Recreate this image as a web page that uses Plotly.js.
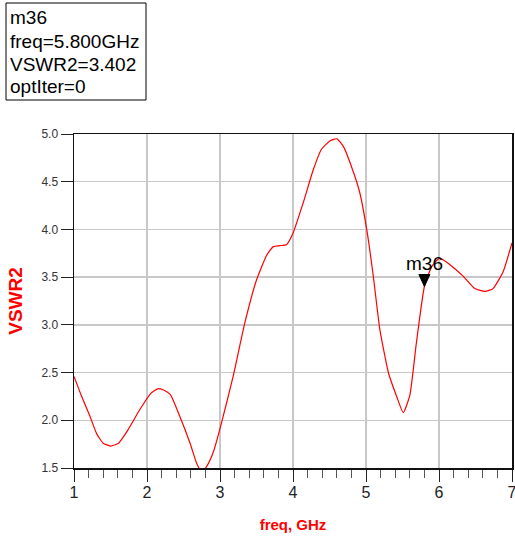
<!DOCTYPE html>
<html>
<head>
<meta charset="utf-8">
<script src="https://cdn.plot.ly/plotly-3.0.1.min.js"></script>
<style>
  html, body { margin: 0; padding: 0; background: #ffffff; }
  #chart { width: 515px; height: 541px; }
</style>
</head>
<body>
<div id="chart"></div>
<script>
// Swept frequency (GHz) and simulated VSWR at port 2
const freq = [1.00, 1.10, 1.22, 1.31, 1.40, 1.50, 1.61, 1.74, 1.90, 2.05, 2.15, 2.22, 2.32, 2.45,
              2.59, 2.68, 2.75, 2.82, 2.91, 3.02, 3.18, 3.34, 3.50, 3.64, 3.73, 3.82, 3.91, 4.00,
              4.14, 4.28, 4.39, 4.51, 4.60, 4.69, 4.80, 4.91, 5.01, 5.10, 5.19, 5.31, 5.42, 5.51,
              5.60, 5.69, 5.80, 5.90, 6.01, 6.15, 6.33, 6.49, 6.63, 6.74, 6.88, 7.00];
const vswr2 = [2.46, 2.26, 2.04, 1.86, 1.76, 1.73, 1.76, 1.90, 2.11, 2.28, 2.33, 2.32, 2.27, 2.04,
               1.76, 1.55, 1.46, 1.52, 1.67, 1.97, 2.46, 3.02, 3.47, 3.73, 3.82, 3.83, 3.84, 3.96,
               4.28, 4.63, 4.84, 4.93, 4.95, 4.87, 4.66, 4.40, 4.00, 3.51, 2.95, 2.49, 2.25, 2.08,
               2.26, 2.81, 3.402, 3.61, 3.70, 3.63, 3.51, 3.38, 3.35, 3.38, 3.56, 3.86];

// Axis ticks
const xTicks = [1, 2, 3, 4, 5, 6, 7];
const yTicks = [1.5, 2.0, 2.5, 3.0, 3.5, 4.0, 4.5, 5.0];

// Marker m36
const markerName = "m36";
const markerFreq = 5.8;
const optIter = 0;
const markerVal = vswr2[freq.indexOf(markerFreq)];

// Plot-area geometry in pixels (used to place the readout box in paper space)
const W = 515, H = 541;
const M = { l: 74, r: 3, t: 134, b: 73 };
const plotW = W - M.l - M.r, plotH = H - M.t - M.b;
const px = x => (x - M.l) / plotW;
const py = y => (H - M.b - y) / plotH;

const sans = '"Liberation Sans", Arial, sans-serif';

const readout = [
  markerName,
  "freq=" + markerFreq.toFixed(3) + "GHz",
  "VSWR2=" + markerVal.toFixed(3),
  "optIter=" + optIter
];
const lineCenters = [18, 41, 64, 86];

const annotations = readout.map((t, i) => ({
  xref: 'paper', yref: 'paper',
  x: px(8), y: py(lineCenters[i]),
  xanchor: 'left', yanchor: 'middle',
  text: t, showarrow: false,
  font: { family: sans, size: 19, color: '#000000' }
}));

annotations.push({
  xref: 'x', yref: 'y', x: markerFreq, y: markerVal,
  xanchor: 'center', yanchor: 'bottom', yshift: 10,
  text: markerName, showarrow: false,
  font: { family: sans, size: 19, color: '#000000' }
});

const shapes = [
  {
    type: 'rect', xref: 'paper', yref: 'paper',
    x0: px(6), x1: px(146), y0: py(100), y1: py(3),
    line: { color: '#000000', width: 1 }, fillcolor: 'rgba(0,0,0,0)'
  },
  {
    // downward marker triangle, tip on the curve
    type: 'path', xref: 'x', yref: 'y',
    xsizemode: 'pixel', ysizemode: 'pixel',
    xanchor: markerFreq, yanchor: markerVal,
    path: 'M-5.5,12 L5.5,12 L0,0 Z',
    fillcolor: '#000000', line: { color: '#000000', width: 1 }
  }
];

const trace = {
  x: freq, y: vswr2,
  type: 'scatter', mode: 'lines',
  line: { color: '#ff0000', width: 1.2, shape: 'spline', smoothing: 0.5 },
  hoverinfo: 'skip'
};

const layout = {
  width: W, height: H,
  margin: M,
  paper_bgcolor: '#ffffff', plot_bgcolor: '#ffffff',
  showlegend: false,
  xaxis: {
    range: [1, 7], tickvals: xTicks, ticktext: xTicks.map(String),
    ticks: 'outside', ticklen: 12, tickwidth: 1, tickcolor: '#222222',
    minor: { dtick: 0.2, tick0: 1, ticks: 'outside', ticklen: 8, tickwidth: 1, tickcolor: '#555555', showgrid: false },
    showline: true, linecolor: '#111111', linewidth: 1.5, mirror: true,
    showgrid: true, gridcolor: '#c8c8c8', gridwidth: 1.5,
    zeroline: false,
    ticklabeloverflow: 'allow',
    ticklabelstandoff: -3,
    tickfont: { family: sans, size: 16, color: '#222222' },
    title: { text: 'freq, GHz', font: { family: sans, size: 15, color: '#ff0000', weight: 'bold' }, standoff: 20 }
  },
  yaxis: {
    range: [1.5, 5], tickvals: yTicks, ticktext: yTicks.map(v => v.toFixed(1)),
    ticks: 'outside', ticklen: 12, tickwidth: 1, tickcolor: '#222222',
    showline: true, linecolor: '#111111', linewidth: 1.5, mirror: true,
    showgrid: true, gridcolor: '#c8c8c8', gridwidth: 1.5,
    zeroline: false,
    tickfont: { family: sans, size: 12, color: '#333333' },
    title: { text: 'VSWR2', font: { family: sans, size: 19, color: '#ff0000', weight: 'bold' }, standoff: 14 }
  },
  annotations: annotations,
  shapes: shapes
};

Plotly.newPlot('chart', [trace], layout, { displayModeBar: false, staticPlot: true });
</script>
</body>
</html>
